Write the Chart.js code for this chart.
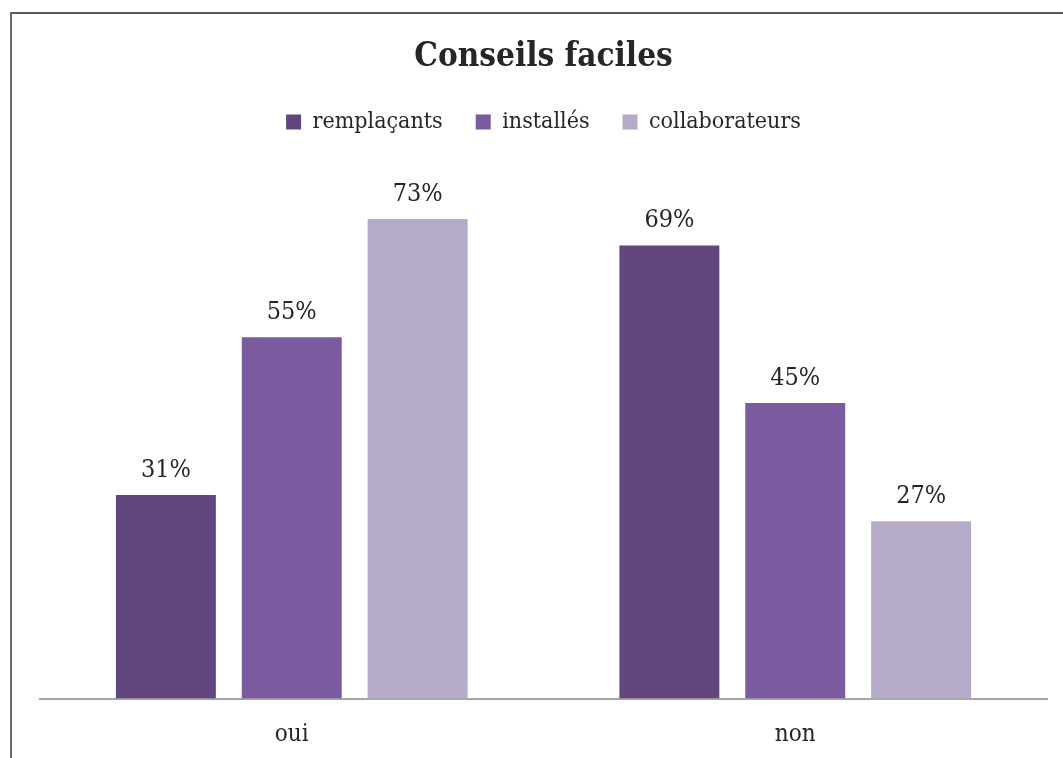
<!DOCTYPE html>
<html>
<head>
<meta charset="utf-8">
<script src="https://cdn.jsdelivr.net/npm/chart.js@4.4.1/dist/chart.umd.min.js"></script>
<style>
  html, body { margin: 0; padding: 0; background: #ffffff; overflow: hidden; }
  #wrap { position: relative; width: 1063px; height: 758px; }
  #frame { position: absolute; left: 10px; top: 12px; width: 1100px; height: 800px;
           border-top: 2px solid #5a5a5a; border-left: 2px solid #6a6a6a; box-sizing: border-box; }
  canvas { position: absolute; left: 0; top: 0; }
</style>
</head>
<body>
<div id="wrap">
  <div id="frame"></div>
  <canvas id="c" width="1063" height="758"></canvas>
</div>
<script>
const categories = ["oui", "non"];
const seriesNames = ["remplaçants", "installés", "collaborateurs"];
const remplacants = [31, 69];
const installes = [55, 45];
const collaborateurs = [73, 27];
const titleText = "Conseils faciles";

const FONT = '"DejaVu Serif Condensed", "DejaVu Serif", serif';
const colors = ["#614680", "#7b5b9f", "#b5aac7"];
const TEXT = "#262626";

const valueLabels = {
  id: "valueLabels",
  afterDatasetsDraw(chart) {
    const ctx = chart.ctx;
    ctx.save();
    ctx.font = "25px " + FONT;
    ctx.fillStyle = TEXT;
    ctx.textAlign = "center";
    ctx.textBaseline = "bottom";
    chart.data.datasets.forEach((ds, i) => {
      const meta = chart.getDatasetMeta(i);
      meta.data.forEach((el, j) => {
        ctx.fillText(ds.data[j] + "%", el.x, el.y - 12);
      });
    });
    ctx.restore();
  }
};

new Chart(document.getElementById("c"), {
  type: "bar",
  data: {
    labels: categories,
    datasets: [
      { label: seriesNames[0], data: remplacants, backgroundColor: colors[0] },
      { label: seriesNames[1], data: installes, backgroundColor: colors[1] },
      { label: seriesNames[2], data: collaborateurs, backgroundColor: colors[2] }
    ]
  },
  options: {
    responsive: false,
    animation: false,
    devicePixelRatio: 1,
    layout: { padding: { left: 40, right: 16, top: 0, bottom: 0 } },
    datasets: { bar: { categoryPercentage: 0.75, barPercentage: 0.794 } },
    scales: {
      x: {
        grid: { display: false, drawTicks: false },
        border: { display: true, color: "#a6a6a6", width: 2 },
        ticks: { color: TEXT, font: { family: FONT, size: 24, lineHeight: 1.0 }, padding: 24 },
        afterFit(scale) { scale.height = 59.5; }
      },
      y: { display: false, min: 0, max: 84.5 }
    },
    plugins: {
      title: {
        display: true, text: titleText, color: TEXT,
        font: { family: FONT, size: 33, weight: "bold", lineHeight: 1.2 },
        padding: { top: 38, bottom: 0 }
      },
      legend: {
        display: true, position: "top",
        labels: { color: TEXT, font: { family: FONT, size: 23 }, boxWidth: 15, boxHeight: 15, padding: 33 }
      },
      tooltip: { enabled: false }
    }
  },
  plugins: [valueLabels]
});
</script>
</body>
</html>
